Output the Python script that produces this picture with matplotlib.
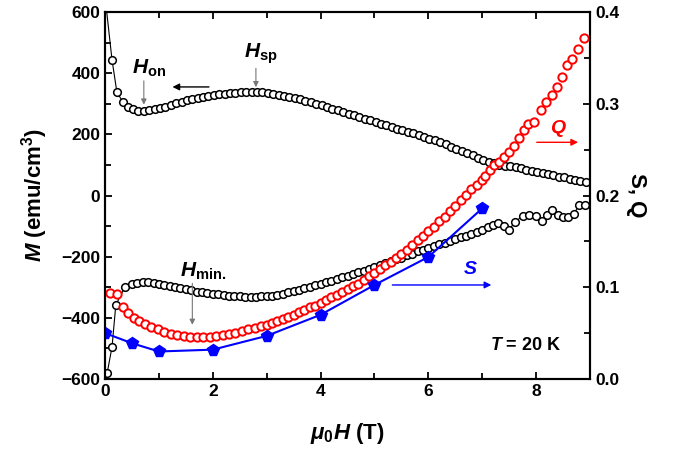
import matplotlib
matplotlib.use("Agg")
import matplotlib.pyplot as plt
from matplotlib import font_manager
from matplotlib.ticker import MultipleLocator

# pick a narrow bold sans if there is one
names = set(f.name for f in font_manager.fontManager.ttflist)
fam = 'Liberation Sans Narrow' if 'Liberation Sans Narrow' in names else 'Liberation Sans'
plt.rcParams['font.family'] = fam
plt.rcParams['font.weight'] = 'bold'
plt.rcParams['axes.labelweight'] = 'bold'
plt.rcParams['mathtext.fontset'] = 'custom'
plt.rcParams['mathtext.it'] = fam + ':italic:bold'
plt.rcParams['mathtext.rm'] = fam + ':bold'
plt.rcParams['mathtext.bf'] = fam + ':bold'

# upper branch of M(H)
H_up = [0.0, 0.13, 0.22, 0.33, 0.43, 0.52, 0.62, 0.72, 0.82, 0.92, 1.02, 1.12, 1.22, 1.32,
        1.42, 1.52, 1.62, 1.72, 1.82, 1.92, 2.02, 2.12, 2.22, 2.32, 2.42, 2.52, 2.62, 2.72,
        2.82, 2.92, 3.02, 3.12, 3.22, 3.32, 3.42, 3.52, 3.62, 3.72, 3.82, 3.92, 4.02, 4.12,
        4.22, 4.32, 4.42, 4.52, 4.62, 4.72, 4.82, 4.92, 5.02, 5.12, 5.22, 5.32, 5.42, 5.52,
        5.62, 5.72, 5.82, 5.92, 6.02, 6.12, 6.22, 6.32, 6.42, 6.52, 6.62, 6.72, 6.82, 6.92,
        7.02, 7.12, 7.22, 7.32, 7.42, 7.52, 7.62, 7.72, 7.82, 7.92, 8.02, 8.12, 8.22, 8.32,
        8.42, 8.52, 8.62, 8.72, 8.82, 8.92]
M_up = [650, 443, 338, 306, 289, 282, 277, 276, 279, 283, 287, 291, 296, 301,
        306, 311, 315, 319, 322, 325, 328, 331, 333, 335, 336, 337, 338, 338,
        338, 337, 335, 333, 330, 327, 323, 319, 315, 310, 305, 300, 295, 290,
        284, 279, 273, 267, 262, 257, 251, 246, 240, 235, 230, 224, 219, 214,
        209, 204, 198, 192, 186, 180, 174, 167, 160, 153, 146, 139, 132, 124,
        117, 110, 105, 101, 98, 95, 92, 89, 85, 81, 77, 74, 70, 66,
        62, 59, 55, 51, 47, 44]

# lower branch of M(H)
H_dn = [0.0, 0.04, 0.13, 0.2, 0.37, 0.5, 0.6, 0.7, 0.8, 0.9, 1.0, 1.1, 1.2, 1.3, 1.4,
        1.5, 1.6, 1.7, 1.8, 1.9, 2.0, 2.1, 2.2, 2.3, 2.4, 2.5, 2.6, 2.7, 2.8, 2.9,
        3.0, 3.1, 3.2, 3.3, 3.4, 3.5, 3.6, 3.7, 3.8, 3.9, 4.0, 4.1, 4.2, 4.3, 4.4,
        4.5, 4.6, 4.7, 4.8, 4.9, 5.0, 5.1, 5.2, 5.3, 5.4, 5.5, 5.6, 5.7, 5.8, 5.9,
        6.0, 6.1, 6.2, 6.3, 6.4, 6.5, 6.6, 6.7, 6.8, 6.9, 7.0, 7.1, 7.2, 7.3, 7.4,
        7.5, 7.6, 7.75, 7.87, 8.0, 8.1, 8.2, 8.3, 8.4, 8.5, 8.6, 8.7, 8.8, 8.9]
M_dn = [-640, -580, -495, -358, -299, -290, -286, -284, -284, -286, -288, -291, -295, -299, -302,
        -306, -310, -314, -317, -319, -321, -323, -325, -327, -329, -330, -331, -332, -331, -330,
        -329, -327, -324, -321, -317, -313, -309, -304, -299, -294, -288, -283, -278, -273, -268,
        -262, -257, -251, -246, -240, -234, -228, -222, -215, -209, -203, -196, -190, -183, -177,
        -170, -165, -159, -154, -148, -142, -137, -132, -126, -120, -114, -103, -96, -90, -100,
        -113, -87, -67, -64, -67, -83, -64, -47, -64, -70, -70, -60, -31, -31]

# Q(H), right axis
H_Q = [0.1, 0.22, 0.33, 0.43, 0.53, 0.63, 0.74, 0.86, 0.98, 1.1, 1.22, 1.34, 1.46, 1.58,
       1.7, 1.82, 1.94, 2.06, 2.18, 2.3, 2.42, 2.54, 2.66, 2.78, 2.9,
       3.0, 3.1, 3.2, 3.3, 3.4, 3.5, 3.6, 3.7, 3.8, 3.9, 4.0, 4.1, 4.2, 4.3, 4.4,
       4.5, 4.6, 4.7, 4.8, 4.9, 5.0, 5.1, 5.2, 5.3, 5.4, 5.5, 5.6, 5.7, 5.8, 5.9,
       6.0, 6.1, 6.2, 6.3, 6.4, 6.5, 6.6, 6.7, 6.8, 6.9, 7.0, 7.06, 7.14, 7.22, 7.31,
       7.41, 7.5, 7.59, 7.69, 7.78, 7.84, 7.96, 8.09, 8.19, 8.3, 8.39, 8.48, 8.57, 8.67,
       8.78, 8.89]
Q = [0.094, 0.093, 0.079, 0.072, 0.067, 0.063, 0.060, 0.057, 0.054, 0.051, 0.049, 0.048, 0.047, 0.046,
     0.0455, 0.0455, 0.046, 0.047, 0.048, 0.049, 0.050, 0.052, 0.054, 0.056, 0.058,
     0.059, 0.061, 0.063, 0.065, 0.068, 0.070, 0.073, 0.075, 0.078, 0.080, 0.083, 0.086, 0.089, 0.092, 0.095,
     0.098, 0.101, 0.104, 0.108, 0.112, 0.116, 0.120, 0.124, 0.128, 0.132, 0.136, 0.141, 0.146, 0.151, 0.156,
     0.161, 0.166, 0.172, 0.177, 0.183, 0.189, 0.195, 0.201, 0.207, 0.212, 0.217, 0.221, 0.228, 0.233, 0.237,
     0.242, 0.247, 0.254, 0.263, 0.271, 0.278, 0.280, 0.293, 0.302, 0.310, 0.318, 0.329, 0.342, 0.349,
     0.360, 0.372]

# S(H), right axis
H_S = [0, 0.5, 1, 2, 3, 4, 5, 6, 7]
S = [0.050, 0.039, 0.030, 0.032, 0.047, 0.070, 0.1025, 0.133, 0.186]

fig = plt.figure(figsize=(6.75, 4.71), dpi=100)
ax = fig.add_axes([0.1556, 0.1953, 0.7185, 0.7792])
ax2 = ax.twinx()

ax.plot(H_up, M_up, '-', color='black', lw=0.8, marker='o', ms=5.5, mfc='white', mec='black', mew=1.1)
ax.plot(H_dn, M_dn, '-', color='black', lw=0.8, marker='o', ms=5.5, mfc='white', mec='black', mew=1.1)
ax2.plot(H_Q, Q, 'o', ms=6, mfc='white', mec='red', mew=1.4)
ax2.plot(H_S, S, '-', color='blue', lw=1.5, marker='p', ms=8.5, mfc='blue', mec='blue')

ax.set_xlim(0, 9)
ax.set_ylim(-600, 600)
ax2.set_ylim(0, 0.4)

ax.xaxis.set_major_locator(MultipleLocator(2))
ax.xaxis.set_minor_locator(MultipleLocator(1))
ax.yaxis.set_major_locator(MultipleLocator(200))
ax.yaxis.set_minor_locator(MultipleLocator(100))
ax2.yaxis.set_major_locator(MultipleLocator(0.1))
ax2.yaxis.set_minor_locator(MultipleLocator(0.05))
ax2.yaxis.set_major_formatter(matplotlib.ticker.FormatStrFormatter('%.1f'))

ax.tick_params(which='both', direction='in', top=True, right=False, width=1.3, labelsize=12.5)
ax.tick_params(which='major', length=5)
ax.tick_params(which='minor', length=4)
ax2.tick_params(which='both', direction='in', width=1.3, labelsize=12.5)
ax2.tick_params(which='major', length=5)
ax2.tick_params(which='minor', length=4)
for a in (ax, ax2):
    for s in a.spines.values():
        s.set_linewidth(1.5)

ax.set_xlabel(r'$\mathit{\mu}_0\mathit{H}$ (T)', fontsize=16, fontweight='bold', labelpad=16)
ax.set_ylabel(r'$\mathit{M}$ (emu/cm$^3$)', fontsize=16, fontweight='bold', labelpad=8)
ax2.set_ylabel('S, Q', fontsize=16, fontweight='bold', rotation=270, labelpad=20)

# annotations
arr = dict(arrowstyle='-|>', color='#777777', lw=0.8, mutation_scale=8)
ax.annotate('', xy=(0.72, 288), xytext=(0.72, 384), arrowprops=arr)
ax.text(0.5, 382, r'$\mathit{H}_{\mathrm{on}}$', fontsize=15, va='bottom')
ax.annotate('', xy=(2.8, 345), xytext=(2.8, 425), arrowprops=arr)
ax.text(2.58, 422, r'$\mathit{H}_{\mathrm{sp}}$', fontsize=15, va='bottom')
ax.annotate('', xy=(1.62, -432), xytext=(1.62, -278), arrowprops=arr)
ax.text(1.4, -282, r'$\mathit{H}_{\mathrm{min.}}$', fontsize=15, va='bottom')
ax.annotate('', xy=(1.2, 355), xytext=(1.98, 355),
            arrowprops=dict(arrowstyle='-|>', color='black', lw=1, mutation_scale=10))
ax2.annotate('', xy=(8.83, 0.258), xytext=(7.96, 0.258),
             arrowprops=dict(arrowstyle='-|>', color='red', lw=1, mutation_scale=10))
ax2.text(8.42, 0.262, r'$\mathit{Q}$', color='red', fontsize=14, ha='center', va='bottom')
ax2.annotate('', xy=(7.22, 0.1025), xytext=(5.28, 0.1025),
             arrowprops=dict(arrowstyle='-|>', color='blue', lw=1, mutation_scale=10))
ax2.text(6.78, 0.11, r'$\mathit{S}$', color='blue', fontsize=14, ha='center', va='bottom')
ax2.text(7.8, 0.037, r'$\mathit{T}$ = 20 K', fontsize=13, ha='center', va='center')

fig.savefig('out.png', dpi=100)
